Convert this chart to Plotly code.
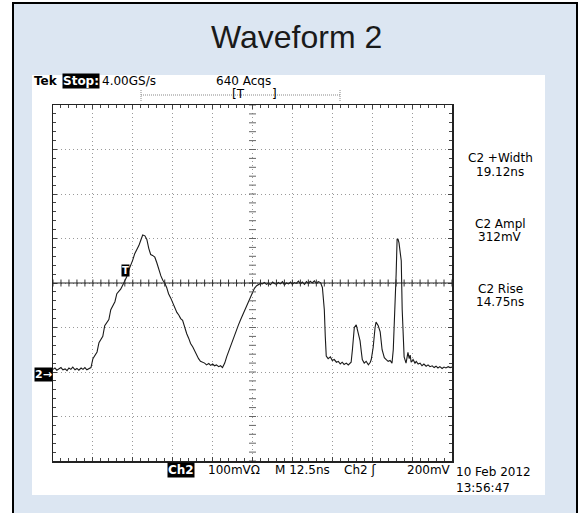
import numpy as np
import plotly.graph_objects as go

# ---------------- data (time in ns, voltage in mV above ground) ----------------
t_ns = [0, 0.6, 1.2, 1.9, 2.5, 3.1, 3.8, 4.4, 5.0, 5.6, 6.2, 6.9, 7.5, 8.1, 8.8, 9.4, 10.0, 10.6, 11.2,
        11.9, 12.5, 13.1, 13.8, 14.4, 15.0, 15.6, 16.2, 16.9, 17.5, 18.1, 18.8, 19.4, 20.0, 20.6, 21.2,
        21.9, 22.5, 23.1, 23.8, 24.4, 25.0, 25.6, 26.2, 26.9, 27.5, 28.1, 28.8, 29.4, 30.0, 30.6, 31.2,
        31.9, 32.5, 33.1, 33.8, 34.4, 35.0, 35.6, 36.2, 36.9, 37.5, 38.1, 38.8, 39.4, 40.0, 40.6, 41.2,
        41.9, 42.5, 43.1, 43.8, 44.4, 45.0, 45.6, 46.2, 46.9, 47.5, 48.1, 48.8, 49.4, 50.0, 50.6, 51.2,
        51.9, 52.5, 53.1, 53.8, 54.4, 55.0, 55.6, 56.2, 56.9, 57.5, 58.1, 58.8, 59.4, 60.0, 60.6, 61.2,
        61.9, 62.5, 63.1, 63.8, 64.4, 65.0,
        65.6, 66.2, 66.9, 67.5, 68.1, 68.8, 69.4, 70.0, 70.6, 71.2, 71.9, 72.5, 73.1, 73.8, 74.4, 75.0,
        75.6, 76.2, 76.9, 77.5, 78.1, 78.8, 79.4, 80.0, 80.6, 81.2, 81.9, 82.5, 83.1, 83.8,
        84.4, 85.0, 85.3, 85.6, 86.2, 86.9, 87.5, 88.1, 88.8, 89.4, 90.0, 90.6, 91.2, 91.9, 92.5, 93.1,
        93.4, 93.8, 94.4, 95.0, 95.6, 96.2, 96.6, 96.9, 97.5, 98.1, 98.8, 99.4, 99.7, 100.3, 100.9, 101.2,
        101.9, 102.5, 103.1, 103.8, 104.4, 105.0, 105.6, 106.2, 106.6, 106.9, 107.2, 107.5, 107.8, 108.1,
        108.4, 108.8, 109.1, 109.4, 109.7, 110.0, 110.6, 111.2, 111.6, 111.9, 112.2, 112.8, 113.4, 113.8,
        114.4, 115.0, 115.6, 116.2, 116.9, 117.5, 118.1, 118.8, 119.4, 120.0, 120.6, 121.2, 121.9, 122.5,
        123.1, 123.8, 124.4, 125.0]
v_mV = [6, 9, 4, 8, 10, 5, 7, 3, 9, 6, 11, 5, 8, 4, 9, 6, 10, 5, 8,
        10, 30, 38, 45, 66, 72, 80, 104, 112, 118, 140, 148, 158, 176, 182, 186,
        196, 204, 214, 230, 240, 252, 266, 274, 284, 296, 308, 306, 298, 278, 264, 262,
        258, 246, 230, 216, 206, 200, 190, 176, 166, 156, 142, 134, 128, 120, 116, 100,
        86, 76, 64, 56, 46, 36, 30, 24, 22, 20, 16, 19, 15, 18, 14, 16,
        12, 14, 10, 20, 34, 46, 58, 72, 84, 96, 106, 118, 128, 136, 146, 158,
        170, 180, 188, 194, 197, 199,
        198, 201, 197, 200, 196, 202, 199, 197, 201, 198, 203, 196, 200, 198, 202, 197,
        201, 199, 204, 198, 202, 197, 203, 199, 204, 200, 205, 199, 203, 201,
        190, 140, 80, 36, 30, 34, 26, 28, 22, 24, 18, 22, 17, 20, 16, 19,
        22, 50, 100, 106, 90, 70, 45, 28, 20, 24, 16, 22, 28, 55, 100, 112,
        104, 90, 50, 32, 28, 24, 26, 20, 50, 100, 160, 220, 298, 298,
        290, 272, 250, 140, 70, 34, 20, 44, 30, 38, 22, 28, 20, 24,
        18, 20, 14, 18, 13, 16, 12, 14, 10, 13, 9, 12, 8, 11,
        9, 12, 10, 11]

trigger_level_mV = 200
x_range = [0, 125]      # 10 div x 12.5 ns
y_range = [-200, 600]   # 8 div x 100 mV, ground at -2 div

readouts = [("C2 +Width", "19.12ns"), ("C2 Ampl", "312mV"), ("C2 Rise", "14.75ns")]

# ---------------- geometry (page pixels) ----------------
L, R, T, B = 53, 452, 105, 461
W, H = 579, 513


def px(x):
    return (x - L) / (R - L)


def py(y):
    return (B - y) / (B - T)


FONT = "DejaVu Sans"
fig = go.Figure()

# waveform
fig.add_trace(go.Scatter(x=t_ns, y=v_mV, mode="lines",
                         line=dict(color="#1a1a1a", width=1.1),
                         hoverinfo="skip", showlegend=False))

# center-line ticks (graticule decoration)
cx = np.arange(0, 125.01, 2.5)
fig.add_trace(go.Scatter(x=cx, y=[trigger_level_mV] * len(cx), mode="markers",
                         marker=dict(symbol="line-ns-open", size=5, color="#333",
                                     line=dict(color="#333", width=1)),
                         hoverinfo="skip", showlegend=False))
cy = np.arange(-200, 600.01, 20)
fig.add_trace(go.Scatter(x=[62.5] * len(cy), y=cy, mode="markers",
                         marker=dict(symbol="line-ew-open", size=5, color="#666",
                                     line=dict(color="#666", width=1)),
                         hoverinfo="skip", showlegend=False))

shapes = [
    # slide frame
    dict(type="rect", xref="paper", yref="paper", x0=px(13), x1=px(577), y0=py(530), y1=py(3),
         fillcolor="#dce6f2", line=dict(color="black", width=2), layer="below"),
    # white screenshot area
    dict(type="rect", xref="paper", yref="paper", x0=px(32), x1=px(545), y0=py(495), y1=py(75),
         fillcolor="white", line=dict(width=0), layer="below"),
    # trigger level line
    dict(type="line", xref="paper", yref="y", x0=0, x1=1, y0=trigger_level_mV, y1=trigger_level_mV,
         line=dict(color="#222", width=1), layer="above"),
    # record bracket on top
    dict(type="line", xref="paper", yref="paper", x0=px(141), x1=px(340), y0=py(95), y1=py(95),
         line=dict(color="#888", width=1, dash="1px,1px")),
    dict(type="line", xref="paper", yref="paper", x0=px(141), x1=px(141), y0=py(90), y1=py(101),
         line=dict(color="#888", width=1, dash="1px,1px")),
    dict(type="line", xref="paper", yref="paper", x0=px(340), x1=px(340), y0=py(90), y1=py(101),
         line=dict(color="#888", width=1, dash="1px,1px")),
]

ann = []


def text(x, y, s, size=12, xanchor="left", color="black", bg=None, bold=False, family=FONT,
         xref="paper", yref="paper"):
    d = dict(x=x, y=y, xref=xref, yref=yref, text=("<b>%s</b>" % s if bold else s),
             showarrow=False, xanchor=xanchor, yanchor="middle",
             font=dict(family=family, size=size, color=color), borderpad=0)
    if bg:
        d["bgcolor"] = bg
    ann.append(d)


text(px(296), py(37), "Waveform 2", size=32, xanchor="center", color="#1a1a1a",
     family="Liberation Sans")
text(px(33), py(81), "Tek", bold=True)
text(px(62), py(81), "Stop:", bold=True, color="white", bg="black")
text(px(101), py(81), "4.00GS/s")
text(px(215), py(81), "640 Acqs")
text(px(231), py(94), "[T", size=12)
text(px(271), py(94), "]", size=12)

ry = [(158, 172), (224, 237), (289, 302)]
for (a, b), (ya, yb) in zip(readouts, ry):
    text(px(500), py(ya), a, xanchor="center")
    text(px(500), py(yb), b, xanchor="center")

text(px(167), py(470), "Ch2", bold=True, color="white", bg="black")
text(px(207), py(470), "100mV\u03a9")
text(px(274), py(470), "M 12.5ns")
text(px(343), py(470), "Ch2 \u0283")
text(px(452), py(470), "200mV", xanchor="right")
text(px(455), py(472), "10 Feb 2012")
text(px(455), py(488), "13:56:47")

# ground marker and trigger marker
text(px(53), py(374), "2\u2192", size=11, color="white", bg="black", bold=True, xanchor="right")
text(22.8, 228, "T", size=10, color="white", bg="black", bold=True, xanchor="center",
     xref="x", yref="y")

axis_common = dict(showgrid=True, gridcolor="#9a9a9a", griddash="1px,3px", gridwidth=1,
                   zeroline=False, showline=True, linecolor="#222", linewidth=1.5,
                   mirror="ticks", ticks="inside", ticklen=4, tickcolor="#444",
                   showticklabels=False, fixedrange=True)

fig.update_layout(
    width=W, height=H, autosize=False,
    margin=dict(l=L, r=W - R, t=T, b=H - B, pad=0),
    paper_bgcolor="white", plot_bgcolor="white",
    xaxis=dict(range=x_range, dtick=12.5, tick0=0,
               minor=dict(dtick=2.5, ticks="inside", ticklen=3, tickcolor="#444", showgrid=False),
               **axis_common),
    yaxis=dict(range=y_range, dtick=100, tick0=-200,
               minor=dict(dtick=20, ticks="inside", ticklen=3, tickcolor="#444", showgrid=False),
               **axis_common),
    shapes=shapes, annotations=ann, showlegend=False,
)

fig.write_html("out.html", config={"displayModeBar": False, "staticPlot": True},
               post_script="document.body.style.margin='0px';document.body.style.overflow='hidden';")
